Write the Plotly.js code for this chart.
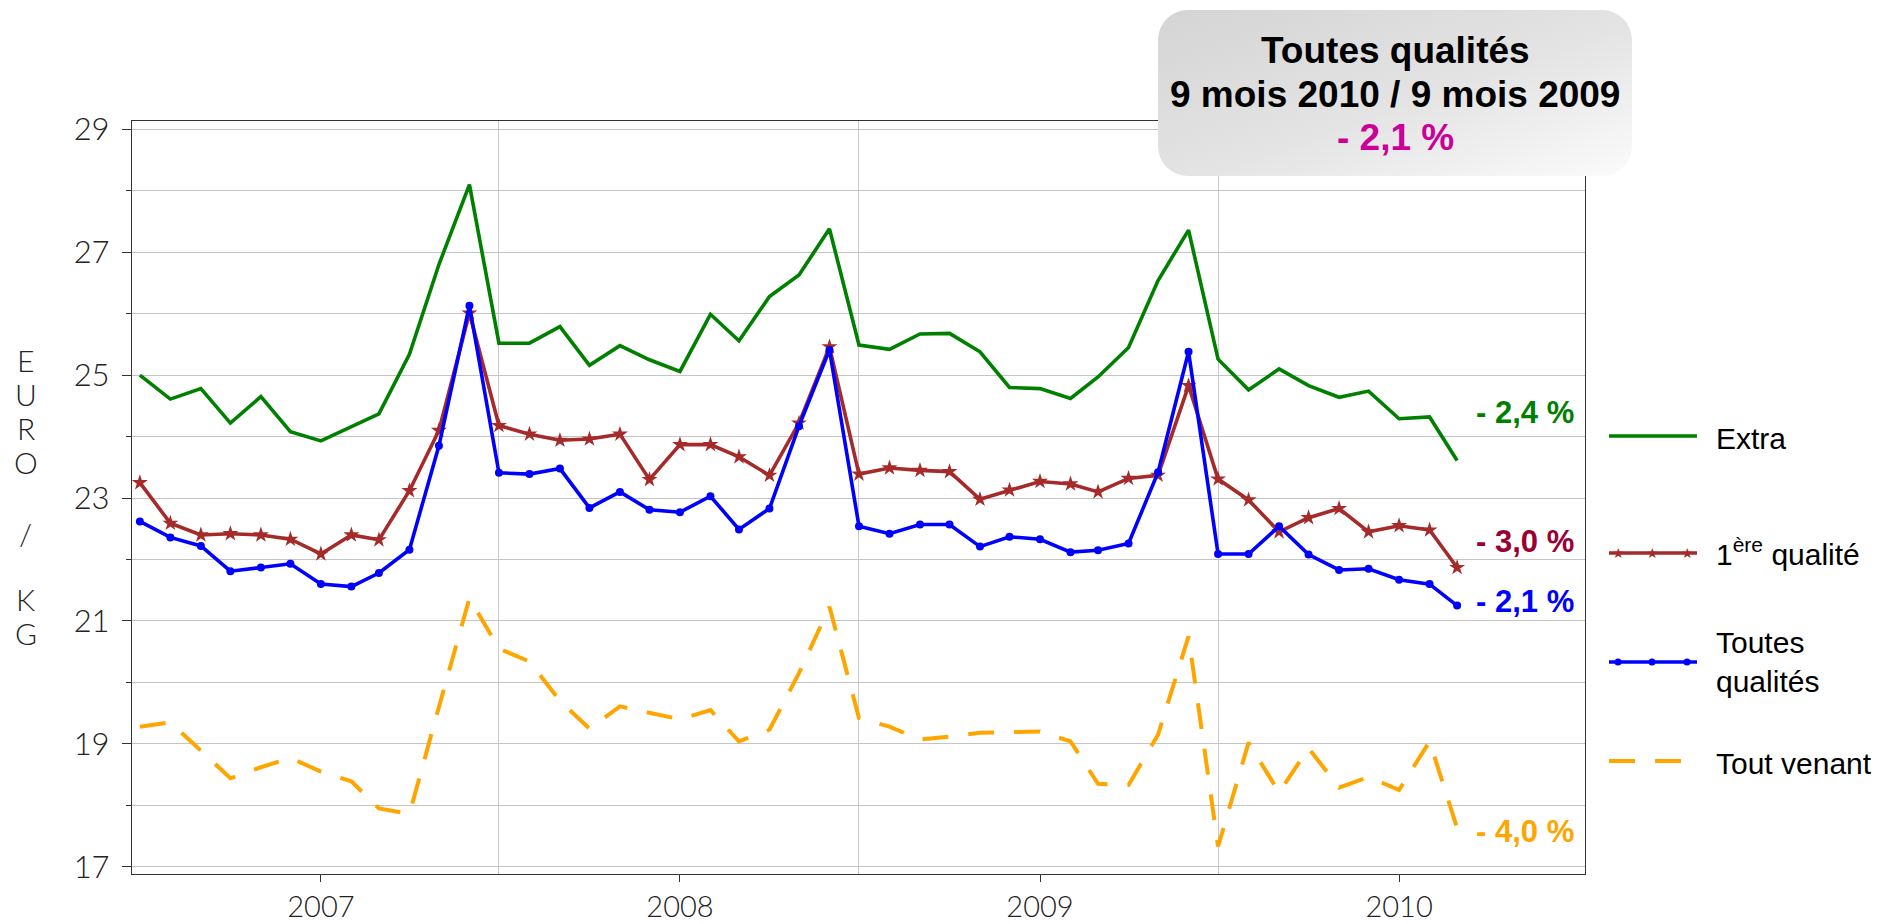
<!DOCTYPE html>
<html>
<head>
<meta charset="utf-8">
<script src="https://cdn.plot.ly/plotly-3.0.1.min.js"></script>
<style>
html,body{margin:0;padding:0;background:#ffffff;}
#chart{width:1886px;height:924px;}
</style>
</head>
<body>
<div id="chart"></div>
<script>
// ---------- DATA ----------
const months = [
  '2006-07-01','2006-08-01','2006-09-01','2006-10-01','2006-11-01','2006-12-01',
  '2007-01-01','2007-02-01','2007-03-01','2007-04-01','2007-05-01','2007-06-01',
  '2007-07-01','2007-08-01','2007-09-01','2007-10-01','2007-11-01','2007-12-01',
  '2008-01-01','2008-02-01','2008-03-01','2008-04-01','2008-05-01','2008-06-01',
  '2008-07-01','2008-08-01','2008-09-01','2008-10-01','2008-11-01','2008-12-01',
  '2009-01-01','2009-02-01','2009-03-01','2009-04-01','2009-05-01','2009-06-01',
  '2009-07-01','2009-08-01','2009-09-01','2009-10-01','2009-11-01','2009-12-01',
  '2010-01-01','2010-02-01','2010-03-01'
];
const extra = [
  25.00,24.61,24.78,24.22,24.65,24.08,23.93,24.16,24.37,25.34,26.80,28.10,
  25.52,25.52,25.79,25.16,25.48,25.25,25.06,25.99,25.56,26.28,26.63,27.38,
  25.49,25.42,25.67,25.68,25.38,24.80,24.78,24.62,24.97,25.45,26.54,27.36,
  25.26,24.76,25.10,24.83,24.64,24.74,24.29,24.32,23.61
];
const premiere = [
  23.25,22.59,22.40,22.42,22.40,22.33,22.09,22.40,22.32,23.12,24.10,26.01,
  24.18,24.04,23.94,23.96,24.04,23.30,23.87,23.87,23.67,23.37,24.22,25.46,
  23.39,23.49,23.45,23.43,22.98,23.13,23.27,23.23,23.10,23.32,23.37,24.83,
  23.31,22.97,22.45,22.68,22.83,22.45,22.55,22.48,21.87
];
const toutes = [
  22.62,22.36,22.22,21.81,21.87,21.93,21.60,21.56,21.78,22.16,23.85,26.13,
  23.41,23.39,23.48,22.84,23.10,22.81,22.77,23.03,22.49,22.83,24.17,25.41,
  22.54,22.42,22.57,22.57,22.21,22.37,22.33,22.12,22.15,22.26,23.42,25.38,
  22.09,22.09,22.54,22.08,21.83,21.85,21.67,21.60,21.25
];
const toutVenant = [
  19.28,19.35,18.89,18.44,18.62,18.77,18.55,18.39,17.95,17.86,19.60,21.37,
  20.55,20.34,19.70,19.25,19.61,19.51,19.40,19.55,19.04,19.23,20.15,21.23,
  19.42,19.28,19.07,19.12,19.18,19.19,19.20,19.04,18.35,18.33,19.15,20.75,
  17.33,19.02,18.21,18.93,18.29,18.46,18.25,19.04,17.63
];
const yearTickVals = ['2007-01-01','2008-01-01','2009-01-01','2010-01-01'];
const yearTickText = ['2007','2008','2009','2010'];
const midYearGrid = ['2007-07-01','2008-07-01','2009-07-01'];
const seriesNames = ['Extra','1<sup>ère</sup> qualité','Toutes<br>qualités','Tout venant'];
const changeLabels = ['- 2,4 %','- 3,0 %','- 2,1 %','- 4,0 %'];
const boxLines = ['Toutes qualités','9 mois 2010 / 9 mois 2009','- 2,1 %'];
const yTitleLetters = ['E','U','R','O','/','K','G'];

// ---------- GEOMETRY HELPERS ----------
const W = 1886, H = 924, ML = 132, MR = 301, MT = 121, MB = 50;
const PW = W - ML - MR, PH = H - MT - MB;
const px = x => (x - ML) / PW;
const py = y => (H - MB - y) / PH;

const cGreen = '#008000', cRed = '#a52a2a', cBlue = '#0000ff', cOrange = '#ffa500';
const thinFamily = 'Lato, "DejaVu Sans", sans-serif';
const yTickFont = {family: thinFamily, size: 31, color: '#222222', weight: 300};
const xTickFont = {family: thinFamily, size: 29, color: '#222222', weight: 300};
const arial = 'Liberation Sans, Arial, sans-serif';
const dashPat = '26px,20px';

// ---------- TRACES ----------
const traces = [
  {x: months, y: toutVenant, name: 'Tout venant', type: 'scatter', mode: 'lines',
   line: {color: cOrange, width: 4, dash: dashPat}},
  {x: months, y: extra, name: 'Extra', type: 'scatter', mode: 'lines',
   line: {color: cGreen, width: 3.6}},
  {x: months, y: premiere, name: '1ère qualité', type: 'scatter', mode: 'lines+markers',
   line: {color: cRed, width: 3.6}, marker: {symbol: 'star', size: 12, color: cRed}},
  {x: months, y: toutes, name: 'Toutes qualités', type: 'scatter', mode: 'lines+markers',
   line: {color: cBlue, width: 3.6}, marker: {symbol: 'circle', size: 8, color: cBlue}}
];

// ---------- BOX (rounded gradient) ----------
const boxX0 = 1158, boxY0 = 10, boxW = 474, boxH = 166;
const boxSvg = "<svg xmlns='http://www.w3.org/2000/svg' width='" + boxW + "' height='" + boxH +
  "' viewBox='0 0 " + boxW + " " + boxH + "'><defs><linearGradient id='g' x1='0' y1='0' x2='1' y2='1'>" +
  "<stop offset='0' stop-color='#d4d4d4'/><stop offset='0.55' stop-color='#e4e4e4'/><stop offset='1' stop-color='#fbfbfb'/></linearGradient></defs>" +
  "<rect x='0' y='0' width='" + boxW + "' height='" + boxH + "' rx='30' ry='30' fill='url(#g)'/></svg>";

// ---------- ANNOTATIONS ----------
const ann = [];
// y-axis title, one letter per line
const yTitleYs = [360, 394, 428, 462, 533, 599, 633];
yTitleLetters.forEach((t, i) => ann.push({xref: 'paper', yref: 'paper', x: px(26), y: py(yTitleYs[i]),
  xanchor: 'center', yanchor: 'middle', text: t, showarrow: false,
  font: {family: thinFamily, size: 30, color: '#222222', weight: 300}}));
// box text
const boxYs = [50, 94, 137];
const boxColors = ['#000000', '#000000', '#cc0099'];
boxLines.forEach((t, i) => ann.push({xref: 'paper', yref: 'paper', x: px(1395), y: py(boxYs[i]),
  xanchor: 'center', yanchor: 'middle', text: '<b>' + t + '</b>', showarrow: false,
  font: {family: arial, size: 37, color: boxColors[i]}}));
// change labels
const changeYs = [412, 541, 601, 831];
const changeColors = [cGreen, '#990033', cBlue, cOrange];
changeLabels.forEach((t, i) => ann.push({xref: 'paper', yref: 'paper', x: px(1474), y: py(changeYs[i]),
  xanchor: 'left', yanchor: 'middle', text: '<b>' + t + '</b>', showarrow: false,
  font: {family: arial, size: 31, color: changeColors[i]}}));
// custom legend
const legYs = [436, 553, 662, 761];
const legColors = [cGreen, cRed, cBlue, cOrange];
const legTextYs = [439, 552, 662, 763];
seriesNames.forEach((t, i) => ann.push({xref: 'paper', yref: 'paper', x: px(1714), y: py(legTextYs[i]),
  xanchor: 'left', yanchor: 'middle', align: 'left', text: t, showarrow: false,
  font: {family: arial, size: 30, color: '#000000'}}));
const legMarkX = [1618, 1652, 1687];
legMarkX.forEach(x => ann.push({xref: 'paper', yref: 'paper', x: px(x), y: py(legYs[1]),
  xanchor: 'center', yanchor: 'middle', text: '★', showarrow: false,
  font: {family: 'DejaVu Sans', size: 14, color: cRed}}));

// ---------- SHAPES (legend keys) ----------
const shapes = [];
legYs.forEach((y, i) => shapes.push({type: 'line', xref: 'paper', yref: 'paper',
  x0: px(1609), x1: px(1697), y0: py(y), y1: py(y),
  line: {color: legColors[i], width: i === 3 ? 4 : 3.6, dash: i === 3 ? dashPat : 'solid'}}));
legMarkX.forEach(x => shapes.push({type: 'circle', xref: 'paper', yref: 'paper',
  x0: px(x - 3.5), x1: px(x + 3.5), y0: py(legYs[2] + 3.5), y1: py(legYs[2] - 3.5),
  fillcolor: cBlue, line: {color: cBlue, width: 0}}));

// ---------- LAYOUT ----------
const layout = {
  width: W, height: H,
  margin: {l: ML, r: MR, t: MT, b: MB, pad: 0},
  paper_bgcolor: '#ffffff', plot_bgcolor: '#ffffff',
  showlegend: false,
  xaxis: {
    type: 'date', range: ['2006-06-23', '2010-07-09'],
    tickmode: 'array', tickvals: yearTickVals, ticktext: yearTickText,
    ticks: 'outside', ticklen: 7, tickwidth: 1, tickcolor: '#333333',
    showgrid: false, zeroline: false,
    showline: true, linecolor: '#333333', linewidth: 1.2, mirror: true,
    tickfont: xTickFont,
    minor: {tickmode: 'array', tickvals: midYearGrid, showgrid: true, gridcolor: '#c9c9c9', gridwidth: 1, ticks: ''}
  },
  yaxis: {
    range: [16.883, 29.135],
    tickmode: 'linear', tick0: 17, dtick: 2,
    ticks: 'outside', ticklen: 9, tickwidth: 1, tickcolor: '#333333',
    showgrid: true, gridcolor: '#c4c4c4', gridwidth: 1, zeroline: false,
    showline: true, linecolor: '#333333', linewidth: 1.2, mirror: true,
    tickfont: yTickFont, ticklabelstandoff: 6,
    minor: {tick0: 17, dtick: 1, ticks: 'outside', ticklen: 5, tickcolor: '#333333', showgrid: true, gridcolor: '#c4c4c4', gridwidth: 1}
  },
  images: [{
    source: 'data:image/svg+xml;charset=utf-8,' + encodeURIComponent(boxSvg),
    xref: 'paper', yref: 'paper', x: px(boxX0), y: py(boxY0),
    sizex: boxW / PW, sizey: boxH / PH, xanchor: 'left', yanchor: 'top',
    sizing: 'stretch', layer: 'above'
  }],
  annotations: ann,
  shapes: shapes
};

Plotly.newPlot('chart', traces, layout, {displayModeBar: false, staticPlot: true});
</script>
</body>
</html>
